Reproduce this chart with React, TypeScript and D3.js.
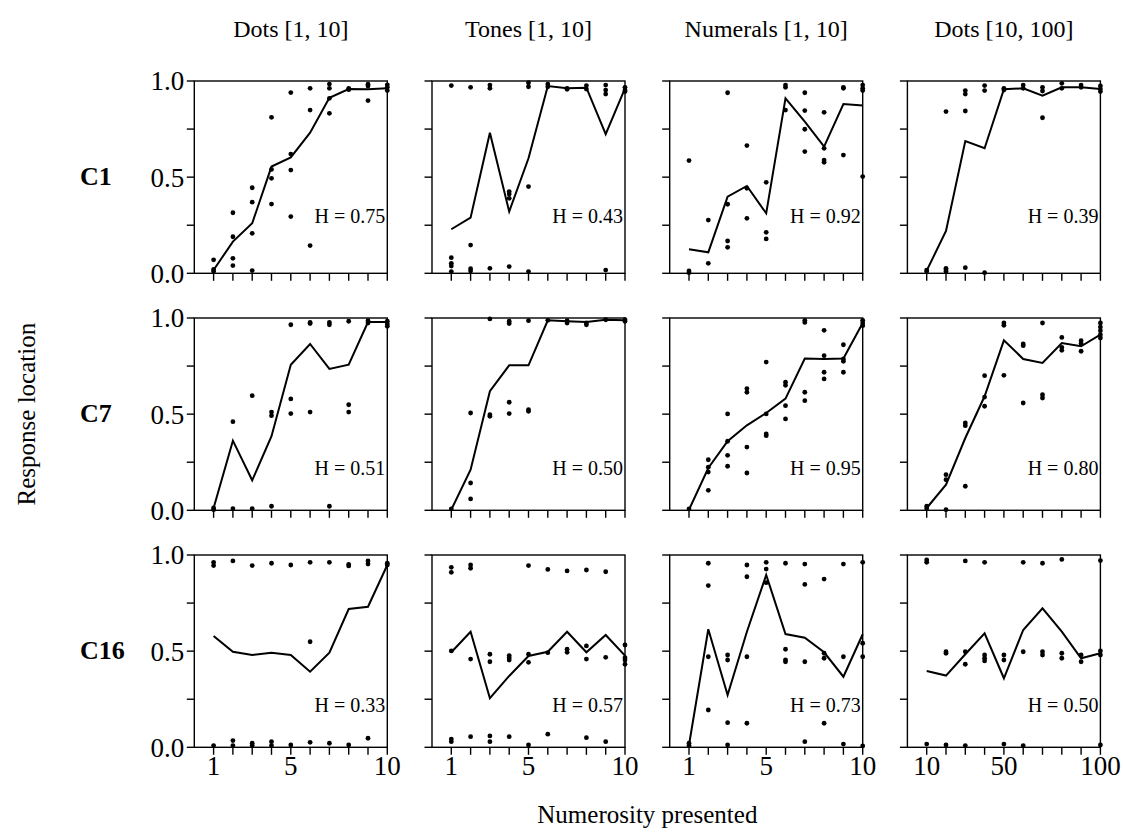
import React from "react";
import * as d3 from "d3";

// Numerosities shown in each column
const numerositySmall = [1, 2, 3, 4, 5, 6, 7, 8, 9, 10];
const numerosityLarge = [10, 20, 30, 40, 50, 60, 70, 80, 90, 100];

const columnTitles = ["Dots [1, 10]", "Tones [1, 10]", "Numerals [1, 10]", "Dots [10, 100]"];
const rowLabels = ["C1", "C7", "C16"];
const hValues = [
  [0.75, 0.43, 0.92, 0.39],
  [0.51, 0.5, 0.95, 0.8],
  [0.33, 0.57, 0.73, 0.5],
];

// C1 — mean response location per numerosity
const c1DotsMean = [0.017, 0.165, 0.26, 0.555, 0.603, 0.731, 0.913, 0.958, 0.957, 0.962];
const c1TonesMean = [0.229, 0.289, 0.731, 0.321, 0.598, 0.974, 0.962, 0.965, 0.724, 0.962];
const c1NumeralsMean = [0.125, 0.109, 0.399, 0.454, 0.312, 0.91, 0.789, 0.659, 0.88, 0.872];
const c1DotsLargeMean = [0.014, 0.22, 0.688, 0.65, 0.957, 0.962, 0.924, 0.967, 0.967, 0.958];

// C1 — individual responses per numerosity
const c1DotsResp = [
  [0.07, 0.02, 0.01], [0.315, 0.19, 0.078, 0.04], [0.445, 0.37, 0.208, 0.014],
  [0.811, 0.54, 0.494, 0.36], [0.94, 0.62, 0.537, 0.295], [0.962, 0.849, 0.144],
  [0.984, 0.962, 0.91, 0.832], [0.962, 0.955], [0.983, 0.974, 0.898], [0.98, 0.967, 0.95],
];
const c1TonesResp = [
  [0.976, 0.081, 0.052, 0.038, 0.009], [0.967, 0.147, 0.024, 0.012], [0.979, 0.962, 0.026],
  [0.425, 0.412, 0.39, 0.035], [0.991, 0.97, 0.451, 0.009], [0.984, 0.97],
  [0.962, 0.957], [0.976, 0.958], [0.979, 0.953, 0.932, 0.017], [0.967, 0.953, 0.945],
];
const c1NumeralsResp = [
  [0.586, 0.012, 0.003], [0.277, 0.052], [0.939, 0.359, 0.168, 0.135],
  [0.664, 0.442, 0.286], [0.473, 0.213, 0.179], [0.979, 0.967, 0.849],
  [0.939, 0.846, 0.749, 0.633], [0.837, 0.65, 0.589, 0.577], [0.967, 0.962, 0.615],
  [0.979, 0.962, 0.95, 0.503],
];
const c1DotsLargeResp = [
  [0.017, 0.009], [0.841, 0.026, 0.017, 0.009], [0.95, 0.932, 0.844, 0.029],
  [0.976, 0.95, 0.003], [0.962, 0.953], [0.979, 0.962], [0.967, 0.948, 0.809],
  [0.988, 0.962], [0.979, 0.967], [0.974, 0.958, 0.945],
];

// C7
const c7DotsMean = [0.012, 0.362, 0.156, 0.385, 0.757, 0.865, 0.735, 0.757, 0.979, 0.979];
const c7TonesMean = [0.003, 0.211, 0.619, 0.754, 0.754, 0.988, 0.983, 0.979, 0.991, 0.988];
const c7NumeralsMean = [0.003, 0.22, 0.359, 0.442, 0.506, 0.581, 0.789, 0.787, 0.789, 0.974];
const c7DotsLargeMean = [0.012, 0.133, 0.376, 0.593, 0.884, 0.787, 0.766, 0.87, 0.853, 0.913];

const c7DotsResp = [
  [0.012, 0.003], [0.461, 0.009], [0.596, 0.009], [0.511, 0.492, 0.021],
  [0.965, 0.579, 0.503], [0.977, 0.971, 0.511], [0.977, 0.965, 0.021],
  [0.983, 0.549, 0.511], [0.986, 0.974], [0.983, 0.969, 0.957],
];
const c7TonesResp = [
  [0.007], [0.506, 0.142, 0.059], [0.995, 0.497, 0.489], [0.983, 0.971, 0.562, 0.503],
  [0.986, 0.523, 0.515], [0.988], [0.986, 0.974], [0.974, 0.965], [0.991], [0.991, 0.983],
];
const c7NumeralsResp = [
  [0.007], [0.263, 0.224, 0.199, 0.104], [0.501, 0.359, 0.286, 0.229],
  [0.633, 0.614, 0.329, 0.194], [0.771, 0.501, 0.397, 0.388], [0.666, 0.65, 0.544, 0.475],
  [0.988, 0.977, 0.614, 0.57], [0.936, 0.804, 0.718, 0.683], [0.861, 0.787, 0.775, 0.718],
  [0.988, 0.974, 0.96],
];
const c7DotsLargeResp = [
  [0.021, 0.009], [0.185, 0.159, 0.003], [0.454, 0.44, 0.125], [0.7, 0.589, 0.541],
  [0.974, 0.962, 0.702], [0.865, 0.856, 0.558], [0.974, 0.601, 0.584],
  [0.899, 0.847, 0.832], [0.882, 0.867, 0.827], [0.974, 0.953, 0.934, 0.913, 0.896],
];

// C16
const c16DotsMean = [0.579, 0.497, 0.48, 0.492, 0.48, 0.393, 0.492, 0.719, 0.731, 0.948];
const c16TonesMean = [0.494, 0.601, 0.255, 0.371, 0.475, 0.497, 0.601, 0.494, 0.584, 0.477];
const c16NumeralsMean = [0.012, 0.614, 0.272, 0.601, 0.896, 0.589, 0.57, 0.494, 0.367, 0.588];
const c16DotsLargeMean = [0.397, 0.373, 0.484, 0.593, 0.359, 0.61, 0.723, 0.601, 0.463, 0.489];

const c16DotsResp = [
  [0.962, 0.945, 0.009], [0.969, 0.035, 0.009], [0.945, 0.021, 0.009],
  [0.957, 0.029, 0.009], [0.948, 0.012], [0.962, 0.549, 0.026], [0.962, 0.021],
  [0.951, 0.943, 0.012], [0.969, 0.953, 0.047], [0.957, 0.948],
];
const c16TonesResp = [
  [0.936, 0.91, 0.501, 0.043, 0.029], [0.948, 0.931, 0.459, 0.055],
  [0.484, 0.445, 0.059, 0.029], [0.477, 0.466, 0.454, 0.055], [0.945, 0.484, 0.442, 0.012],
  [0.925, 0.492, 0.068], [0.917, 0.51, 0.494], [0.922, 0.527, 0.459, 0.05],
  [0.913, 0.468, 0.029], [0.532, 0.466, 0.454, 0.432],
];
const c16NumeralsResp = [
  [0.021, 0.009], [0.957, 0.841, 0.471, 0.194], [0.48, 0.454, 0.128, 0.012],
  [0.948, 0.887, 0.471, 0.125], [0.962, 0.927, 0.856], [0.957, 0.51, 0.454, 0.445],
  [0.953, 0.847, 0.445, 0.029], [0.875, 0.489, 0.463, 0.125], [0.953, 0.471, 0.017],
  [0.962, 0.541, 0.471, 0.007],
];
const c16DotsLargeResp = [
  [0.974, 0.962, 0.017], [0.497, 0.489, 0.012], [0.969, 0.497, 0.432, 0.009],
  [0.962, 0.48, 0.463, 0.449], [0.48, 0.454, 0.017], [0.962, 0.497, 0.009],
  [0.957, 0.497, 0.48], [0.977, 0.489, 0.463], [0.48, 0.445], [0.971, 0.501, 0.48, 0.012],
];

const meanGrid = [
  [c1DotsMean, c1TonesMean, c1NumeralsMean, c1DotsLargeMean],
  [c7DotsMean, c7TonesMean, c7NumeralsMean, c7DotsLargeMean],
  [c16DotsMean, c16TonesMean, c16NumeralsMean, c16DotsLargeMean],
];
const respGrid = [
  [c1DotsResp, c1TonesResp, c1NumeralsResp, c1DotsLargeResp],
  [c7DotsResp, c7TonesResp, c7NumeralsResp, c7DotsLargeResp],
  [c16DotsResp, c16TonesResp, c16NumeralsResp, c16DotsLargeResp],
];

const yTicks = [0, 0.25, 0.5, 0.75, 1];
const yTickLabels = ["0.0", "", "0.5", "", "1.0"];
const xLabelSmall = [1, 5, 10];
const xLabelLarge = [10, 50, 100];

const W = 1123;
const H = 837;
const FONT = "'Liberation Serif', 'Times New Roman', serif";

const panelLeft = 194.3;
const colStep = 237.7;
const panelW = 193;
const panelTop = 81;
const rowStep = 237;
const panelH = 192.3;

function Panel({ row, col }: { row: number; col: number }) {
  const large = col === 3;
  const xs = large ? numerosityLarge : numerositySmall;
  const x = d3.scaleLinear().domain([0, large ? 100 : 10]).range([0, panelW]);
  const y = d3.scaleLinear().domain([0, 1]).range([panelH, 0]);
  const mean = meanGrid[row][col];
  const resp = respGrid[row][col];
  const line = d3
    .line<number>()
    .x((_, i) => x(xs[i]))
    .y((d) => y(d));
  const labels = large ? xLabelLarge : xLabelSmall;
  const hY = row === 0 ? y(0.26) : y(0.185);

  return (
    <g transform={`translate(${panelLeft + col * colStep},${panelTop + row * rowStep})`}>
      <rect x={0} y={0} width={panelW} height={panelH} fill="none" stroke="#000" strokeWidth={1.4} />
      {yTicks.map((t, i) => (
        <g key={"y" + i}>
          <line x1={-7.5} x2={0} y1={y(t)} y2={y(t)} stroke="#000" strokeWidth={1.4} />
          {col === 0 && yTickLabels[i] && (
            <text x={-10} y={y(t)} dy="0.35em" textAnchor="end" fontSize={27} fontFamily={FONT}>
              {yTickLabels[i]}
            </text>
          )}
        </g>
      ))}
      {xs.map((v, i) => (
        <line key={"x" + i} x1={x(v)} x2={x(v)} y1={panelH} y2={panelH + 7.5} stroke="#000" strokeWidth={1.4} />
      ))}
      {row === 2 &&
        labels.map((v) => (
          <text key={"xl" + v} x={x(v)} y={panelH + 28} textAnchor="middle" fontSize={27} fontFamily={FONT}>
            {v}
          </text>
        ))}
      <path d={line(mean) || ""} fill="none" stroke="#000" strokeWidth={2} strokeLinejoin="miter" />
      {resp.map((vals, i) =>
        vals.map((v, j) => <circle key={`d${i}-${j}`} cx={x(xs[i])} cy={y(v)} r={2.4} fill="#000" />)
      )}
      <text x={panelW - 2} y={hY} textAnchor="end" fontSize={20} fontFamily={FONT}>
        {`H = ${hValues[row][col].toFixed(2)}`}
      </text>
    </g>
  );
}

export default function App() {
  return (
    <svg
      width={W}
      height={H}
      viewBox={`0 0 ${W} ${H}`}
      style={{ position: "absolute", left: 0, top: 0, background: "#fff" }}
    >
      <rect width={W} height={H} fill="#fff" />
      {columnTitles.map((t, c) => (
        <text key={t} x={panelLeft + c * colStep + panelW / 2} y={37} textAnchor="middle" fontSize={24} fontFamily={FONT}>
          {t}
        </text>
      ))}
      {rowLabels.map((t, r) => (
        <text
          key={t}
          x={80}
          y={panelTop + r * rowStep + panelH / 2 + 8}
          fontSize={26}
          fontWeight="bold"
          fontFamily={FONT}
        >
          {t}
        </text>
      ))}
      <text
        transform={`translate(35,${panelTop + rowStep + panelH / 2}) rotate(-90)`}
        textAnchor="middle"
        fontSize={25}
        fontFamily={FONT}
      >
        Response location
      </text>
      <text x={panelLeft + (3 * colStep + panelW) / 2} y={823} textAnchor="middle" fontSize={25} fontFamily={FONT}>
        Numerosity presented
      </text>
      {[0, 1, 2].map((r) => [0, 1, 2, 3].map((c) => <Panel key={`${r}-${c}`} row={r} col={c} />))}
    </svg>
  );
}
